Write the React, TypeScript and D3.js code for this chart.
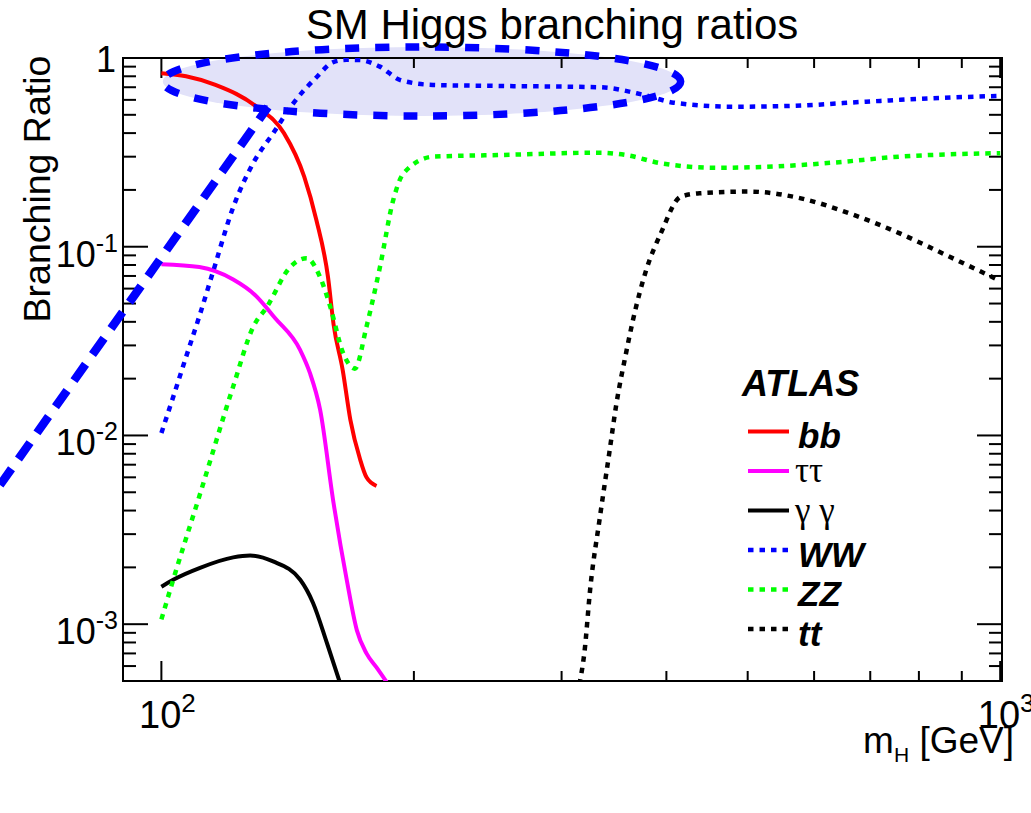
import React from "react";
import * as d3 from "d3";

// ---- data ----
const bbMass = [100, 107, 116, 130, 140, 148, 153, 158, 160.4, 164.5, 168, 172.5, 175.6, 180.5];
const bbBR = [0.83, 0.8, 0.72, 0.55, 0.4, 0.235, 0.139, 0.069, 0.039, 0.0222, 0.0121, 0.0075, 0.006, 0.0054];

const tautauMass = [100, 111, 121.8, 129.3, 136.6, 146.4, 150.3, 154.6, 160.4, 166.4, 171, 175.6, 180.5, 187];
const tautauBR = [0.0808, 0.078, 0.067, 0.0555, 0.0419, 0.0283, 0.0215, 0.0137, 0.0044, 0.0017, 0.00093, 0.0007, 0.00059, 0.00047];

const gamgamMass = [100, 103.3, 111.2, 121.8, 127.6, 135.9, 146.4, 151.6, 157.6, 163.5];
const gamgamBR = [0.00158, 0.00172, 0.00199, 0.00226, 0.00231, 0.00215, 0.00172, 0.0013, 0.00079, 0.00048];

const wwMass = [100, 103.3, 107.2, 111.2, 115.3, 121.8, 128.7, 136, 143.7, 153.2, 160.3, 166.3, 172.5, 182.2, 192.7, 210.8, 253, 333, 376, 408, 480, 561, 692, 830, 1000];
const wwBR = [0.0103, 0.016, 0.0267, 0.044, 0.0743, 0.162, 0.278, 0.401, 0.577, 0.793, 0.952, 0.978, 0.975, 0.9, 0.764, 0.72, 0.711, 0.7, 0.637, 0.58, 0.552, 0.557, 0.587, 0.612, 0.63];

const zzMass = [100, 103.3, 111.2, 121.8, 128.7, 133.6, 142.4, 149, 154.6, 159, 164.7, 170.1, 175.6, 182.2, 189, 194.4, 210.9, 253, 333, 358, 394, 458, 527, 632, 758, 1000];
const zzBR = [0.00106, 0.00172, 0.0049, 0.0182, 0.0377, 0.048, 0.078, 0.087, 0.069, 0.048, 0.0273, 0.0226, 0.0377, 0.078, 0.177, 0.245, 0.3, 0.306, 0.315, 0.306, 0.277, 0.262, 0.265, 0.279, 0.3, 0.313];

const ttMass = [315, 319.3, 324.7, 333, 342, 348.7, 358, 365, 378.5, 394, 416, 438, 502, 577, 662, 758, 868, 1000];
const ttBR = [0.00048, 0.0007, 0.00158, 0.0036, 0.0081, 0.0147, 0.0272, 0.041, 0.0754, 0.118, 0.184, 0.192, 0.196, 0.181, 0.15, 0.118, 0.089, 0.066];

// annotation: highlighted WW region (ellipse extents) and pointer line, in data units
const ellipseMass = [100.4, 416];
const ellipseBR = [0.493, 1.144];
const pointerMass = [64.2, 134];
const pointerBR = [0.00546, 0.55];

// axis ticks
const xMajorTicks = [100, 1000];
const xMinorTicks = [200, 300, 400, 500, 600, 700, 800, 900];
const xTickExp = ["2", "3"];
const yDecades = [-4, -3, -2, -1, 0];
const yMajorLabels = [
  { v: 1, base: "1", exp: "" },
  { v: 0.1, base: "10", exp: "-1" },
  { v: 0.01, base: "10", exp: "-2" },
  { v: 0.001, base: "10", exp: "-3" },
];

const legendNames = ["bb", "ττ", "γ γ", "WW", "ZZ", "tt"];
const legendGreek = [false, true, true, false, false, false];
const legendColors = ["#ff0000", "#ff00ff", "#000000", "#0000ff", "#00ff00", "#000000"];
const legendDotted = [false, false, false, true, true, true];

const series = [
  { m: bbMass, br: bbBR, color: "#ff0000", dotted: false },
  { m: tautauMass, br: tautauBR, color: "#ff00ff", dotted: false },
  { m: gamgamMass, br: gamgamBR, color: "#000000", dotted: false },
  { m: wwMass, br: wwBR, color: "#0000ff", dotted: true },
  { m: zzMass, br: zzBR, color: "#00ff00", dotted: true },
  { m: ttMass, br: ttBR, color: "#000000", dotted: true },
];

const W = 1031;
const H = 813;
const L = 123, R = 1002, T = 58, B = 681;
const FONT = "'Liberation Sans', Arial, Helvetica, sans-serif";
const SERIF = "'Liberation Serif', 'Times New Roman', serif";
const DOT = "5.5 6";

export default function App() {
  const x = d3.scaleLog().domain([90, 1005]).range([L, R]);
  const y = d3.scaleLog().domain([5e-4, 1]).range([B, T]);

  const line = d3
    .line<[number, number]>()
    .x((d) => x(d[0]))
    .y((d) => y(d[1]))
    .curve(d3.curveMonotoneX);

  const yTicks: { v: number; major: boolean }[] = [];
  yDecades.forEach((d) => {
    for (let k = 1; k <= 9; k++) {
      const v = k * Math.pow(10, d);
      if (v >= 5e-4 * 0.999 && v <= 1.0001) yTicks.push({ v, major: k === 1 });
    }
  });

  const exL = x(ellipseMass[0]);
  const exR = x(ellipseMass[1]);
  const eyT = y(ellipseBR[1]);
  const eyB = y(ellipseBR[0]);
  const ecx = (exL + exR) / 2;
  const ecy = (eyT + eyB) / 2;
  const erx = (exR - exL) / 2;
  const ery = (eyB - eyT) / 2;

  const legendTop = 431.5;
  const legendStep = 39.5;

  return (
    <svg
      width={W}
      height={H}
      style={{ position: "absolute", left: 0, top: 0, background: "#fff" }}
      fontFamily={FONT}
    >
      <defs>
        <clipPath id="plotClip">
          <rect x={L} y={T} width={R - L} height={B - T} />
        </clipPath>
      </defs>
      <rect x={0} y={0} width={W} height={H} fill="#fff" />

      {/* ellipse fill */}
      <ellipse cx={ecx} cy={ecy} rx={erx} ry={ery} fill="#e2e2f9" />

      {/* frame */}
      <rect x={L} y={T} width={R - L} height={B - T} fill="none" stroke="#000" strokeWidth={2} />

      {/* y ticks */}
      {yTicks.map((t, i) => {
        const len = t.major ? 25 : 13;
        const yy = y(t.v);
        return (
          <g key={"yt" + i}>
            <line x1={L} x2={L + len} y1={yy} y2={yy} stroke="#000" strokeWidth={2} />
            <line x1={R} x2={R - len} y1={yy} y2={yy} stroke="#000" strokeWidth={2} />
          </g>
        );
      })}
      {/* x ticks */}
      {xMajorTicks.concat(xMinorTicks).map((v, i) => {
        const len = i < xMajorTicks.length ? 20 : 10;
        const xx = x(v);
        return (
          <g key={"xt" + i}>
            <line x1={xx} x2={xx} y1={B} y2={B - len} stroke="#000" strokeWidth={2} />
            <line x1={xx} x2={xx} y1={T} y2={T + len} stroke="#000" strokeWidth={2} />
          </g>
        );
      })}

      {/* y tick labels */}
      {yMajorLabels.map((lab, i) => {
        const yy = y(lab.v);
        if (!lab.exp) {
          return (
            <text key={"yl" + i} x={116} y={yy + 14} fontSize={36} textAnchor="end">
              {lab.base}
            </text>
          );
        }
        return (
          <text key={"yl" + i} x={118} y={yy + 20} fontSize={36} textAnchor="end">
            <tspan>{lab.base}</tspan>
            <tspan dy={-15} fontSize={25}>{lab.exp}</tspan>
          </text>
        );
      })}

      {/* x tick labels */}
      {xMajorTicks.map((v, i) => (
        <text key={"xl" + i} x={x(v) + 6} y={728} fontSize={38} textAnchor="middle">
          <tspan>10</tspan>
          <tspan dy={-16} fontSize={26}>{xTickExp[i]}</tspan>
        </text>
      ))}

      {/* curves */}
      <g clipPath="url(#plotClip)">
        {series.map((s, i) => (
          <path
            key={"s" + i}
            d={line(s.m.map((m, j) => [m, s.br[j]] as [number, number])) || ""}
            fill="none"
            stroke={s.color}
            strokeWidth={s.dotted ? 4.5 : 4}
            strokeDasharray={s.dotted ? DOT : undefined}
          />
        ))}
      </g>

      {/* annotation: ellipse outline and pointer */}
      <ellipse
        cx={ecx}
        cy={ecy}
        rx={erx}
        ry={ery}
        fill="none"
        stroke="#0000ff"
        strokeWidth={7.5}
        strokeDasharray="14 16"
      />
      <line
        x1={x(pointerMass[0])}
        y1={y(pointerBR[0])}
        x2={x(pointerMass[1])}
        y2={y(pointerBR[1])}
        stroke="#0000ff"
        strokeWidth={8.5}
        strokeDasharray="20 12"
      />

      {/* titles */}
      <text x={552} y={39} fontSize={42} textAnchor="middle">
        SM Higgs branching ratios
      </text>
      <text transform="translate(50,189) rotate(-90)" fontSize={37.5} textAnchor="middle">
        Branching Ratio
      </text>
      <text x={1014} y={753} fontSize={37} textAnchor="end">
        <tspan>m</tspan>
        <tspan dy={9} fontSize={21}>H</tspan>
        <tspan dy={-9}> [GeV]</tspan>
      </text>

      {/* legend */}
      <text x={742} y={396} fontSize={36} fontWeight="bold" fontStyle="italic">
        ATLAS
      </text>
      {legendNames.map((name, i) => {
        const yy = legendTop + i * legendStep;
        return (
          <g key={"lg" + i}>
            <line
              x1={748}
              x2={789}
              y1={yy}
              y2={yy}
              stroke={legendColors[i]}
              strokeWidth={legendDotted[i] ? 4.5 : 4}
              strokeDasharray={legendDotted[i] ? DOT : undefined}
            />
            {legendGreek[i] ? (
              <text x={795} y={yy + 11} fontSize={35} fontFamily={SERIF} style={{ whiteSpace: "pre" }}>
                {name}
              </text>
            ) : (
              <text x={798} y={yy + 16.5} fontSize={35} fontWeight="bold" fontStyle="italic">
                {name}
              </text>
            )}
          </g>
        );
      })}
    </svg>
  );
}
